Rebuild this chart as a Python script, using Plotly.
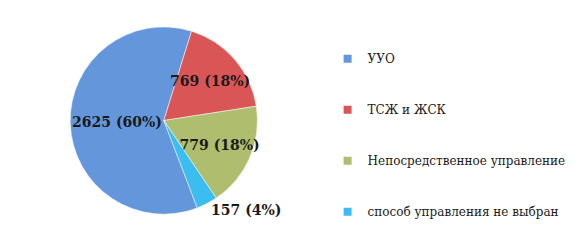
import plotly.graph_objects as go

# Data
categories = ["УУО", "ТСЖ и ЖСК", "Непосредственное управление", "способ управления не выбран"]
values = [2625, 769, 779, 157]
pct_labels = ["60%", "18%", "18%", "4%"]
colors = ["#6496DC", "#DA5656", "#AEBD6E", "#3CBDF0"]

slice_text = [f"{v} ({p})" for v, p in zip(values, pct_labels)]

fig = go.Figure()

fig.add_trace(go.Pie(
    labels=categories,
    values=values,
    text=slice_text,
    textinfo="text",
    textposition=["inside", "inside", "inside", "outside"],
    insidetextorientation="horizontal",
    textfont=dict(family="DejaVu Serif", size=14, color="#1a1a1a", weight="bold"),
    marker=dict(colors=colors, line=dict(color="#ffffff", width=0.5)),
    sort=False,
    direction="clockwise",
    rotation=159,
    showlegend=False,
    domain=dict(x=[0.12, 0.44], y=[0.12, 0.90]),
    hoverinfo="label+value",
))

# legend entries
for name, col in zip(categories, colors):
    fig.add_trace(go.Scatter(
        x=[None], y=[None], mode="markers", name=name,
        legendgroup=name,
        marker=dict(symbol="square", size=8, color=col),
    ))

fig.update_layout(
    width=585, height=246,
    margin=dict(l=0, r=0, t=0, b=0),
    paper_bgcolor="white", plot_bgcolor="white",
    xaxis=dict(visible=False), yaxis=dict(visible=False),
    uniformtext=dict(minsize=14, mode="show"),
    legend=dict(
        x=0.56, y=0.82, xanchor="left", yanchor="top",
        font=dict(family="DejaVu Serif", size=12, color="#1a1a1a"),
        tracegroupgap=32,
        bgcolor="rgba(0,0,0,0)",
    ),
)

fig.write_html("out.html")
